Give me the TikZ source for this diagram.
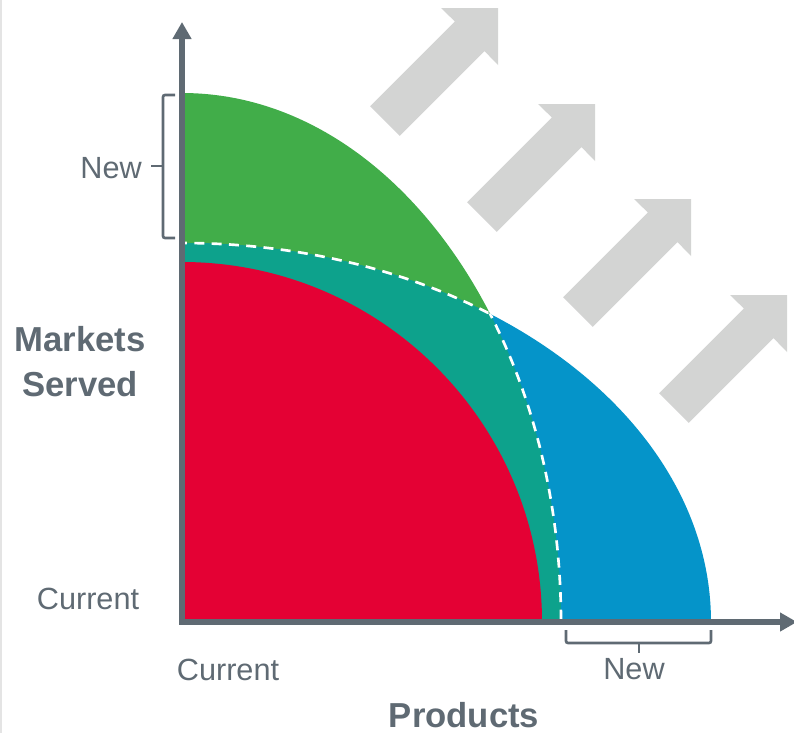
\documentclass[tikz,border=0pt]{standalone}
\usepackage{fontspec}
\setmainfont{Liberation Sans}
\usetikzlibrary{arrows.meta}
\definecolor{axisgray}{RGB}{95,106,115}
\definecolor{arrowgray}{RGB}{211,212,211}
\definecolor{mktgreen}{RGB}{65,173,73}
\definecolor{prodblue}{RGB}{5,148,201}
\definecolor{bothteal}{RGB}{13,162,140}
\definecolor{corered}{RGB}{228,1,52}
\definecolor{edgegray}{RGB}{228,228,228}

\begin{document}
\begin{tikzpicture}[x=0.75pt,y=0.75pt,yscale=-1,xscale=1,
  axisline/.style={draw=axisgray,line width=4.5pt,line join=miter},
  bracket/.style={draw=axisgray,line width=2pt,rounded corners=1.5pt},
  lbl/.style={text=axisgray,inner sep=0pt,font=\fontsize{23}{27}\selectfont},
  ttl/.style={text=axisgray,inner sep=0pt,align=center,font=\fontsize{26}{33.75}\selectfont\bfseries},
  growarrow/.style={fill=arrowgray},
  border/.style={draw=white,line width=2pt,dash pattern=on 7.5pt off 5.5pt}]
\useasboundingbox (0,0) rectangle (794,733);

%Shape: left edge strip
\fill[edgegray] (0,0) rectangle (2,733);

%Shape: growth arrows
\fill[growarrow,shift={(498,8)}] (0,0) -- (0,57) -- (-13.5,43.1) -- (-98.3,127.9) -- (-127.9,98.3) -- (-43.1,13.5) -- (-57,0) -- cycle;
\fill[growarrow,shift={(595,104)}] (0,0) -- (0,57) -- (-13.5,43.1) -- (-98.3,127.9) -- (-127.9,98.3) -- (-43.1,13.5) -- (-57,0) -- cycle;
\fill[growarrow,shift={(691,199)}] (0,0) -- (0,57) -- (-13.5,43.1) -- (-98.3,127.9) -- (-127.9,98.3) -- (-43.1,13.5) -- (-57,0) -- cycle;
\fill[growarrow,shift={(787,295)}] (0,0) -- (0,57) -- (-13.5,43.1) -- (-98.3,127.9) -- (-127.9,98.3) -- (-43.1,13.5) -- (-57,0) -- cycle;

%Shape: quarter regions
\begin{scope}
\clip (182,0) rectangle (794,622);
\fill[mktgreen] (182,622) ellipse [x radius=379,y radius=529];
\fill[prodblue] (182,622) ellipse [x radius=529,y radius=379];
\begin{scope}
\clip (182,622) ellipse [x radius=379,y radius=529];
\fill[bothteal] (182,622) ellipse [x radius=529,y radius=379];
\end{scope}
\fill[corered] (182,622) circle [radius=360];
%Dashed borders
\begin{scope}
\clip (182,622) ellipse [x radius=529,y radius=379];
\draw[border] (182,622) ellipse [x radius=379,y radius=529];
\end{scope}
\begin{scope}
\clip (182,622) ellipse [x radius=379,y radius=529];
\draw[border] (182,622) ellipse [x radius=529,y radius=379];
\end{scope}
\end{scope}

%Shape: Axis 2D
\draw[axisline,{Triangle[length=12.75pt,width=13.5pt]}-{Triangle[length=12.75pt,width=13.5pt]}] (182,22) |- (797,622);

%Shape: brackets
\draw[bracket] (175,95) -- (163,95) -- (163,238) -- (175,238);
\draw[bracket] (163,166) -- (151,166);
\draw[bracket] (566,630) -- (566,643) -- (711,643) -- (711,630);
\draw[bracket] (639,643) -- (639,653);

% Text Node
\draw (142,178) node [lbl,anchor=base east] (newmkt) {New};
% Text Node
\draw (88,609) node [lbl,anchor=base] (curmkt) {Current};
% Text Node
\draw (80,362) node [ttl] (mktlbl) {Markets\\Served};
% Text Node
\draw (228,680) node [lbl,anchor=base] (curprod) {Current};
% Text Node
\draw (634,679) node [lbl,anchor=base] (newprod) {New};
% Text Node
\draw (464,727) node [ttl,anchor=base] (prodlbl) {Products};

\end{tikzpicture}
\end{document}
